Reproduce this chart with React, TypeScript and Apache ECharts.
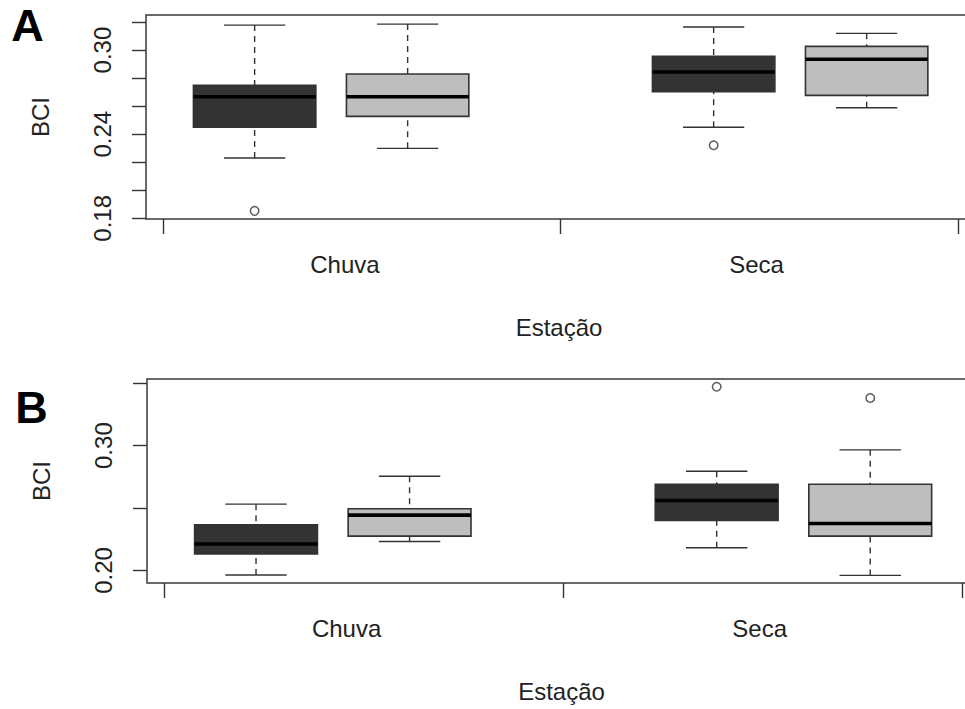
import React, { useEffect, useRef } from "react";
import * as echarts from "echarts";

// Box positions on the x axis (Chuva: 1,2 ; Seca: 4,5)
const positions = [1, 2, 4, 5];
const boxFills = ["#333333", "#bebebe", "#333333", "#bebebe"];
const seasonLabels = ["Chuva", "Seca"];
const seasonLabelPos = [1.59, 4.28];
const xTickPos = [0.4, 3.0, 5.6];

// Panel A statistics: [low whisker, Q1, median, Q3, high whisker]
const statsA = [
  [0.223, 0.2449, 0.2667, 0.2748, 0.3178],
  [0.2299, 0.2527, 0.2667, 0.2829, 0.3185],
  [0.2449, 0.2703, 0.2843, 0.2955, 0.3164],
  [0.2589, 0.2677, 0.2934, 0.3026, 0.3119],
];
const outliersA = [
  [1, 0.1853],
  [4, 0.2321],
];
const yTicksA = [0.18, 0.2, 0.22, 0.24, 0.26, 0.28, 0.3, 0.32];
const yLabelsA = [0.18, 0.24, 0.3];

// Panel B statistics
const statsB = [
  [0.1963, 0.2131, 0.2211, 0.2366, 0.2531],
  [0.2232, 0.2275, 0.2443, 0.2494, 0.2755],
  [0.2182, 0.24, 0.256, 0.2691, 0.2795],
  [0.196, 0.2275, 0.2376, 0.2691, 0.2966],
];
const outliersB = [
  [4, 0.3472],
  [5, 0.3382],
];
const yTicksB = [0.2, 0.25, 0.3, 0.35];
const yLabelsB = [0.2, 0.3];

const FONT = "'Liberation Sans', Arial, Helvetica, sans-serif";
const INK = "#333333";
const TEXT = "#222222";

function buildBoxData(stats: number[][]) {
  return stats.map((s, i) => [positions[i], s[0], s[1], s[2], s[3], s[4], i]);
}

const renderBox = (params: any, api: any) => {
  const x = api.value(0);
  const low = api.value(1);
  const q1 = api.value(2);
  const med = api.value(3);
  const q3 = api.value(4);
  const high = api.value(5);
  const idx = api.value(6);
  const hb = 0.4;
  const hc = 0.2;
  const tl = api.coord([x - hb, q3]);
  const br = api.coord([x + hb, q1]);
  const mL = api.coord([x - hb, med]);
  const mR = api.coord([x + hb, med]);
  const c = api.coord([x, 0.25]);
  const pLow = api.coord([x, low]);
  const pHigh = api.coord([x, high]);
  const pQ1 = api.coord([x, q1]);
  const pQ3 = api.coord([x, q3]);
  const capL = api.coord([x - hc, 0.25]);
  const capR = api.coord([x + hc, 0.25]);
  const lineStyle = { stroke: INK, lineWidth: 1.4, fill: null };
  return {
    type: "group",
    children: [
      {
        type: "line",
        shape: { x1: c[0], y1: pHigh[1], x2: c[0], y2: pQ3[1] },
        style: { ...lineStyle, lineDash: [6, 5] },
      },
      {
        type: "line",
        shape: { x1: c[0], y1: pLow[1], x2: c[0], y2: pQ1[1] },
        style: { ...lineStyle, lineDash: [6, 5] },
      },
      {
        type: "line",
        shape: { x1: capL[0], y1: pHigh[1], x2: capR[0], y2: pHigh[1] },
        style: lineStyle,
      },
      {
        type: "line",
        shape: { x1: capL[0], y1: pLow[1], x2: capR[0], y2: pLow[1] },
        style: lineStyle,
      },
      {
        type: "rect",
        shape: { x: tl[0], y: tl[1], width: br[0] - tl[0], height: br[1] - tl[1] },
        style: { fill: boxFills[idx], stroke: INK, lineWidth: 1.6 },
      },
      {
        type: "line",
        shape: { x1: mL[0], y1: mL[1], x2: mR[0], y2: mR[1] },
        style: { stroke: "#000000", lineWidth: 3.6 },
      },
    ],
  };
};

function xAxisFor(gridIndex: number) {
  return {
    gridIndex,
    type: "value",
    min: 0.29,
    max: 5.78,
    axisLine: { show: false },
    splitLine: { show: false },
    axisTick: {
      show: true,
      customValues: xTickPos,
      length: 15,
      lineStyle: { color: INK, width: 1.4 },
    },
    axisLabel: {
      show: true,
      customValues: seasonLabelPos,
      formatter: (v: number) => (v < 3 ? seasonLabels[0] : seasonLabels[1]),
      margin: 33,
      fontSize: 24,
      lineHeight: 24,
      color: TEXT,
      fontFamily: FONT,
    },
    name: "Estação",
    nameLocation: "middle",
    nameGap: 96,
    nameTextStyle: {
      fontSize: 24,
      lineHeight: 24,
      color: TEXT,
      fontFamily: FONT,
      padding: [0, 14, 0, 0],
    },
  };
}

function yAxisFor(gridIndex: number, min: number, max: number, ticks: number[], labels: number[]) {
  return {
    gridIndex,
    type: "value",
    min,
    max,
    axisLine: { show: false },
    splitLine: { show: false },
    axisTick: {
      show: true,
      customValues: ticks,
      length: 14,
      lineStyle: { color: INK, width: 1.4 },
    },
    axisLabel: {
      show: true,
      customValues: labels,
      rotate: 90,
      formatter: (v: number) => v.toFixed(2),
      margin: 32,
      fontSize: 24,
      lineHeight: 24,
      color: TEXT,
      fontFamily: FONT,
    },
    name: "BCI",
    nameLocation: "middle",
    nameRotate: 90,
    nameGap: 94,
    nameTextStyle: { fontSize: 24, lineHeight: 24, color: TEXT, fontFamily: FONT },
  };
}

const gridStyle = {
  show: true,
  borderColor: "#3a3a3a",
  borderWidth: 1.5,
  backgroundColor: "transparent",
  containLabel: false,
};

const outlierStyle = { color: "#ffffff", borderColor: INK, borderWidth: 1.5 };

export default function App() {
  const ref = useRef<HTMLDivElement>(null);
  useEffect(() => {
    if (!ref.current) return;
    const chart = echarts.init(ref.current, undefined, { renderer: "svg" });
    chart.setOption({
      animation: false,
      backgroundColor: "#ffffff",
      grid: [
        { ...gridStyle, left: 146, top: 15, width: 840, height: 204 },
        { ...gridStyle, left: 147, top: 379, width: 843, height: 204 },
      ],
      xAxis: [xAxisFor(0), xAxisFor(1)],
      yAxis: [
        yAxisFor(0, 0.1795, 0.325, yTicksA, yLabelsA),
        yAxisFor(1, 0.1899, 0.3534, yTicksB, yLabelsB),
      ],
      series: [
        {
          type: "custom",
          xAxisIndex: 0,
          yAxisIndex: 0,
          renderItem: renderBox,
          encode: { x: 0, y: [1, 2, 3, 4, 5] },
          data: buildBoxData(statsA),
        },
        {
          type: "scatter",
          xAxisIndex: 0,
          yAxisIndex: 0,
          symbol: "circle",
          symbolSize: 8.5,
          itemStyle: outlierStyle,
          data: outliersA,
        },
        {
          type: "custom",
          xAxisIndex: 1,
          yAxisIndex: 1,
          renderItem: renderBox,
          encode: { x: 0, y: [1, 2, 3, 4, 5] },
          data: buildBoxData(statsB),
        },
        {
          type: "scatter",
          xAxisIndex: 1,
          yAxisIndex: 1,
          symbol: "circle",
          symbolSize: 8.5,
          itemStyle: outlierStyle,
          data: outliersB,
        },
      ],
      graphic: [
        {
          type: "text",
          x: 27.5,
          y: 25.8,
          style: {
            text: "A",
            fontSize: 45,
            lineHeight: 36,
            fontWeight: "bold",
            fontFamily: FONT,
            fill: "#000000",
            align: "center",
            verticalAlign: "middle",
          },
        },
        {
          type: "text",
          x: 31.5,
          y: 407.7,
          style: {
            text: "B",
            fontSize: 45,
            lineHeight: 36,
            fontWeight: "bold",
            fontFamily: FONT,
            fill: "#000000",
            align: "center",
            verticalAlign: "middle",
          },
        },
      ],
    });
    return () => chart.dispose();
  }, []);
  return (
    <div
      ref={ref}
      style={{ position: "fixed", left: 0, top: 0, width: 995, height: 709, background: "#fff" }}
    />
  );
}
